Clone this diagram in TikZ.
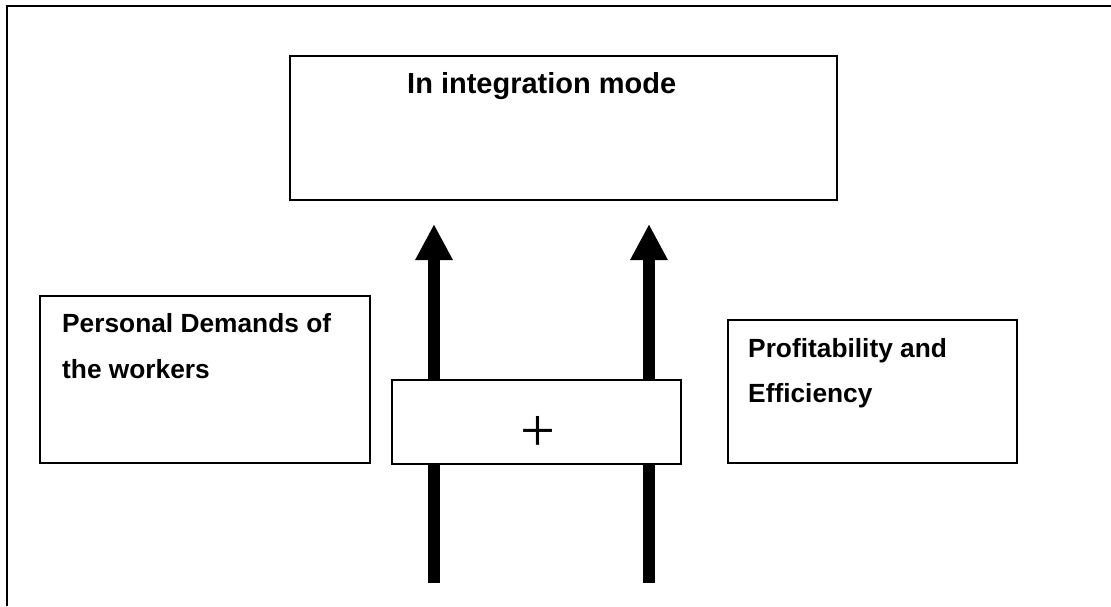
\documentclass[tikz,border=0pt]{standalone}
\usepackage{fontspec}
\setmainfont{Liberation Sans}
\newfontfamily\plusfont{Liberation Serif}
\usetikzlibrary{arrows.meta}
\begin{document}
\begin{tikzpicture}[x=1pt,y=-1pt,
  box/.style={draw=black,line width=1.6pt,fill=white,inner sep=0pt,outer sep=0pt},
  lbl/.style={anchor=base west,inner sep=0pt,font=\bfseries\fontsize{26.3}{30}\selectfont},
  bigarrow/.style={line width=12pt,-{Triangle[width=35pt,length=36pt]}},
  frame/.style={line width=2pt}]
\useasboundingbox (0,0) rectangle (1111,606);
% outer frame (top and left edges visible)
\coordinate (fbl) at (7,606);
\coordinate (ftl) at (7,6);
\coordinate (ftr) at (1111,6);
\draw[frame] (fbl) -- (ftl) -- (ftr);
% top box
\node[box,minimum width=547pt,minimum height=144pt] (top) at (563.5,128) {};
\node[anchor=base west,inner sep=0pt,font=\bfseries\fontsize{29}{32}\selectfont] (toptxt) at (407,93) {In integration mode};
% left box
\node[box,minimum width=330pt,minimum height=167pt] (left) at (205,379.5) {};
\node[lbl] (l1) at (62,332) {Personal Demands of};
\node[lbl] (l2) at (62,378) {the workers};
% right box
\node[box,minimum width=289pt,minimum height=143pt] (right) at (872.5,391.5) {};
\node[lbl] (r1) at (748,357) {Profitability and};
\node[lbl] (r2) at (748,402) {Efficiency};
% arrows
\coordinate (a1s) at (434,583);
\coordinate (a1e) at (434,224);
\coordinate (a2s) at (649,583);
\coordinate (a2e) at (649,224);
\draw[bigarrow] (a1s) -- (a1e);
\draw[bigarrow] (a2s) -- (a2e);
% plus box
\node[box,minimum width=289pt,minimum height=84pt] (plus) at (536.5,422) {};
\node[inner sep=0pt,font=\plusfont\fontsize{62}{62}\selectfont] (plustxt) at (538,434) {+};
\end{tikzpicture}
\end{document}
